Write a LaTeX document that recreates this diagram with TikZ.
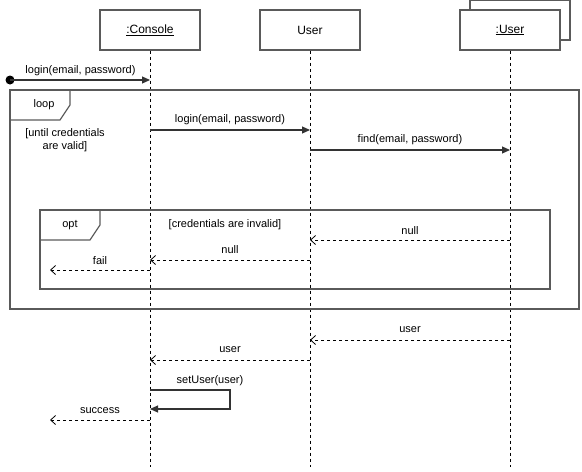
\documentclass[tikz,border=0pt]{standalone}
\usepackage{fontspec}
\setmainfont{Liberation Sans}
\usetikzlibrary{arrows.meta}
\definecolor{frameline}{HTML}{5A5A5A}
\tikzset{
  head/.style={draw=frameline, line width=1.2pt, fill=white, minimum width=100pt, minimum height=40pt, inner sep=0pt, font=\fontsize{12}{14}\selectfont},
  lifeline/.style={black, line width=0.8pt, dash pattern=on 3pt off 3pt},
  frm/.style={draw=frameline, line width=1.2pt},
  lbl/.style={font=\fontsize{11}{13}\selectfont, inner sep=0pt},
  msg/.style={black!80, line width=1.1pt, -{Triangle[length=8pt,width=7pt]}},
  ret/.style={black, line width=0.8pt, dash pattern=on 3pt off 3pt, -{Straight Barb[length=5pt,width=9pt]}},
}
\begin{document}
\begin{tikzpicture}[x=1pt,y=-1pt]
\useasboundingbox (0,0) rectangle (582,472);

% lifeline heads (the last one is a multi-object with a shadow box)
\draw[frm, fill=white] (470,0) rectangle (570,40);
\node[head] (con) at (150,30) {\underline{:Console}};
\node[head] (usr) at (310,30) {User};
\node[head] (obj) at (510,30) {\underline{:User}};

% lifeline ends
\coordinate (bot) at (0,467);
\draw[lifeline] (con.south) -- (con |- bot);
\draw[lifeline] (usr.south) -- (usr |- bot);
\draw[lifeline] (obj.south) -- (obj |- bot);

% message levels
\coordinate (y0) at (0,80);
\coordinate (y1) at (0,130);
\coordinate (y2) at (0,150);
\coordinate (y3) at (0,240);
\coordinate (y4) at (0,260);
\coordinate (y5) at (0,270);
\coordinate (y6) at (0,340);
\coordinate (y7) at (0,360);
\coordinate (y8) at (0,390);
\coordinate (y9) at (0,409);
\coordinate (y10) at (0,420);
\coordinate (outer) at (50,0);
\coordinate (selfx) at (230,0);

% found message
\fill (10,80) circle (4.5pt) coordinate (start);
\draw[msg] (start) -- (con |- y0);
\node[lbl] (t0) at (80.5,71) {login(email, password)};

% loop fragment
\draw[frm] (10,90) rectangle (579,309);
\draw[frm] (10,90) -- (70,90) -- (70,105) -- (60,120) -- (10,120);
\node[lbl] (loopl) at (44,105) {loop};
\node[lbl, align=center] (loopg) at (65,140.5) {[until credentials\\are valid]};

\draw[msg] (con |- y1) -- (usr |- y1);
\node[lbl] (t1) at (230,120) {login(email, password)};
\draw[msg] (usr |- y2) -- (obj |- y2);
\node[lbl] (t2) at (410,140) {find(email, password)};

% opt fragment
\draw[frm] (40,210) rectangle (550,289);
\draw[frm] (40,210) -- (100,210) -- (100,225) -- (90,240) -- (40,240);
\node[lbl] (optl) at (70,225) {opt};
\node[lbl] (optg) at (225,225) {[credentials are invalid]};

\draw[ret] (obj |- y3) -- (usr |- y3);
\node[lbl] (t3) at (410,231) {null};
\draw[ret] (usr |- y4) -- (con |- y4);
\node[lbl] (t4) at (230,250) {null};
\draw[ret] (con |- y5) -- (outer |- y5);
\node[lbl] (t5) at (100,261) {fail};

% successful login
\draw[ret] (obj |- y6) -- (usr |- y6);
\node[lbl] (t6) at (410,330) {user};
\draw[ret] (usr |- y7) -- (con |- y7);
\node[lbl] (t7) at (230,350) {user};

\draw[msg] (con |- y8) -- (selfx |- y8) -- (selfx |- y9) -- (con |- y9);
\node[lbl] (t8) at (210,381) {setUser(user)};

\draw[ret] (con |- y10) -- (outer |- y10);
\node[lbl] (t9) at (100,411) {success};
\end{tikzpicture}
\end{document}
